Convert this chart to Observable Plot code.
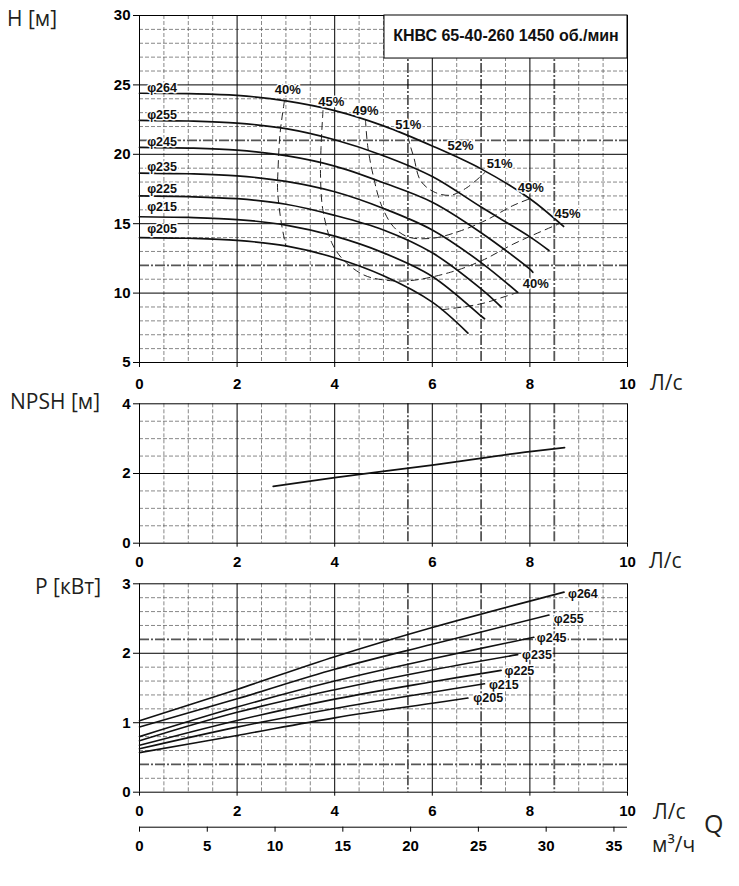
<!DOCTYPE html>
<html><head><meta charset="utf-8">
<script src="https://cdn.jsdelivr.net/npm/d3@7"></script>
<script src="https://cdn.jsdelivr.net/npm/@observablehq/plot@0.6"></script>
<style>
body{margin:0;background:#fff;}
#wrap{position:relative;width:739px;height:886px;overflow:hidden;background:#fff;}
#wrap svg{position:absolute;left:0;overflow:visible;}
</style></head><body><div id="wrap"></div>
<script>
// ---------- data ----------
const diameters = ["φ264","φ255","φ245","φ235","φ225","φ215","φ205"];
// Head curves H [m] vs Q [l/s]
const head264 = [[0,24.4],[1,24.37],[2,24.25],[3,23.85],[4,23.15],[5,22.05],[6,20.6],[7,18.95],[8,16.8],[8.69,14.8]];
const head255 = [[0,22.45],[1,22.4],[2,22.25],[3,21.85],[4,21.05],[5,19.9],[6,18.4],[7,16.2],[8,14.05],[8.39,13.07]];
const head245 = [[0,20.5],[1,20.45],[2,20.3],[3,19.9],[4,19.15],[5,17.95],[6,16.55],[7,14.35],[8,11.72],[8.06,11.5]];
const head235 = [[0,18.65],[1,18.6],[2,18.45],[3,18.05],[4,17.3],[5,16.1],[6,14.55],[7,12.2],[7.75,10.05]];
const head225 = [[0,17.0],[1,16.95],[2,16.8],[3,16.4],[4,15.6],[5,14.55],[6,12.9],[7,10.3],[7.41,9.0]];
const head215 = [[0,15.5],[1,15.45],[2,15.3],[3,14.9],[4,14.1],[5,12.9],[6,11.2],[7,8.35],[7.07,8.15]];
const head205 = [[0,14.0],[1,13.95],[2,13.8],[3,13.4],[4,12.55],[5,11.25],[6,9.35],[6.73,7.12]];
const headSeries = [head264, head255, head245, head235, head225, head215, head205];
const headLabelQ = 0.157;
const headLabelH = [24.8, 22.85, 20.92, 19.07, 17.5, 16.19, 14.63];

// Efficiency iso-lines
const eff40left = [[2.97,23.85],[2.88,21.5],[2.84,19.0],[2.83,17.4],[2.9,15.2],[3.0,13.35]];
const eff45 = [[3.76,23.15],[3.72,20.5],[3.71,18.35],[3.76,15.95],[3.95,13.55],[4.19,12.35],[4.6,11.3],[5.0,10.95],[5.55,10.9],[6.37,11.5],[7.02,12.35],[7.67,13.55],[8.6,15.0]];
const eff49 = [[4.63,22.5],[4.68,20.5],[4.8,18.3],[4.95,16.4],[5.2,14.8],[5.5,14.05],[6.0,13.95],[6.55,14.45],[7.1,15.25],[7.65,16.3],[8.0,16.8]];
const eff51 = [[5.5,21.3],[5.55,20.6],[5.62,19.8],[5.76,18.1],[6.03,17.3],[6.37,17.05],[6.71,17.6],[7.08,18.7]];
const eff40right = [[6.2,8.8],[7.0,9.23],[7.53,9.8],[7.75,10.05]];
const effSeries = [eff40left, eff45, eff49, eff51, eff40right];
const effLabels = ["40%","45%","49%","51%","52%","51%","49%","45%","40%"];
const effLabelQ = [3.04, 3.93, 4.63, 5.51, 6.58, 7.38, 8.02, 8.77, 8.12];
const effLabelH = [24.65, 23.8, 23.16, 22.15, 20.63, 19.31, 17.59, 15.71, 10.67];

// NPSH [m]
const npshQ = [2.74, 4, 6, 8, 8.71];
const npshH = [1.63, 1.88, 2.24, 2.63, 2.74];

// Power P [kW]
const pow264 = [[0,1.03],[2,1.48],[4,1.95],[6,2.37],[8.7,2.88]];
const pow255 = [[0,0.94],[2,1.345],[4,1.77],[6,2.13],[8.39,2.55]];
const pow245 = [[0,0.8],[2,1.225],[4,1.6],[6,1.92],[8.08,2.23]];
const pow235 = [[0,0.74],[2,1.15],[4,1.475],[6,1.76],[7.75,1.98]];
const pow225 = [[0,0.675],[2,1.033],[4,1.34],[6,1.59],[7.41,1.754]];
const pow215 = [[0,0.625],[2,0.937],[4,1.205],[6,1.44],[7.07,1.56]];
const pow205 = [[0,0.57],[2,0.817],[4,1.07],[6,1.28],[6.73,1.355]];
const powSeries = [pow264, pow255, pow245, pow235, pow225, pow215, pow205];
const powLabelQ = [8.78, 8.49, 8.14, 7.84, 7.48, 7.16, 6.84];
const powLabelP = [2.86, 2.50, 2.22, 1.97, 1.75, 1.55, 1.35];

// Grid / ticks
const qTicks = [0,2,4,6,8,10];
const qMinor = [0.5,1,1.5,2.5,3,3.5,4.5,5,6.5,7.5,9,9.5];
const qThick = [5.5,7,8.5];
const hTicks = [5,10,15,20,25,30];
const hMinor = [6,7,8,9,11,13,14,16,17,18,19,22,23,24,26,27,28,29];
const hThick = [12,21];
const nTicks = [0,2,4];
const nMinor = [0.5,1,1.5,2.5,3,3.5];
const pTicks = [0,1,2,3];
const pMinor = [0.2,0.6,0.8,1.2,1.4,1.6,1.8,2.4,2.6,2.8];
const pThick = [0.4,2.2];
const m3hTicks = [0,5,10,15,20,25,30,35];
const titleText = "КНВС 65-40-260 1450 об./мин";
const titleBox = {q1: 5.02, q2: 10, h1: 26.9, h2: 30};

// ---------- styles ----------
const TICKFONT = '"Liberation Sans Narrow","Liberation Sans",Arial,sans-serif';
const LABFONT = '"Liberation Sans",Arial,sans-serif';
const fmt = d3.format("d");
const minorStyle = {stroke:"#555", strokeWidth:0.7, strokeDasharray:"4,2"};
const thickStyle = {stroke:"#555", strokeWidth:1.8, strokeDasharray:"10,2,2,2"};
const majorStyle = {stroke:"#000", strokeWidth:1};
const baseOpts = {width:739, marginLeft:139, marginRight:112,
  style:{fontFamily:TICKFONT, fontSize:"15px", fontWeight:"bold", color:"#000", background:"transparent"}};

const rows = (series, names, yk) => series.flatMap((s,i)=>s.map(([q,v])=>({d:names[i], q, [yk]:v})));
const wrap = document.getElementById("wrap");
function place(svg, top){ svg.style.top = top+"px"; wrap.appendChild(svg); }

// ---------- H chart ----------
const headRows = rows(headSeries, diameters, "h");
const effRows = effSeries.flatMap((s,i)=>s.map(([q,h])=>({k:i,q,h})));
place(Plot.plot({...baseOpts, height:390, marginTop:15, marginBottom:28,
  x:{domain:[0,10], label:null}, y:{domain:[5,30], label:null},
  marks:[
    Plot.ruleX(qMinor, minorStyle),
    Plot.ruleY(hMinor, minorStyle),
    Plot.ruleX(qThick, thickStyle),
    Plot.ruleY(hThick, thickStyle),
    Plot.ruleX(qTicks, majorStyle),
    Plot.ruleY(hTicks, majorStyle),
    Plot.rect([titleBox], {x1:"q1", x2:"q2", y1:"h1", y2:"h2", fill:"white", stroke:"#000", strokeWidth:1}),
    Plot.text([titleText], {x:(titleBox.q1+titleBox.q2)/2, y:(titleBox.h1+titleBox.h2)/2+0.05, text:d=>d, fontFamily:LABFONT, fontSize:16, fontWeight:"bold", fill:"#111"}),
    Plot.line(effRows, {x:"q", y:"h", z:"k", curve:"catmull-rom", stroke:"#222", strokeWidth:1, strokeDasharray:"7,5"}),
    Plot.line(headRows, {x:"q", y:"h", z:"d", curve:"catmull-rom", stroke:"#111", strokeWidth:1.7}),
    Plot.text(effLabels, {x:(d,i)=>effLabelQ[i], y:(d,i)=>effLabelH[i], text:d=>d, fontFamily:TICKFONT, fontSize:13, fontWeight:"bold", fill:"#111", stroke:"white", strokeWidth:3}),
    Plot.text(diameters, {x:headLabelQ, y:(d,i)=>headLabelH[i], text:d=>d, textAnchor:"start", fontFamily:LABFONT, fontSize:12.5, fontWeight:"bold", fill:"#111", stroke:"white", strokeWidth:3}),
    Plot.axisX({ticks:qTicks, tickFormat:fmt, tickSize:5, tickPadding:11, label:null}),
    Plot.axisY({ticks:hTicks, tickFormat:fmt, tickSize:6, tickPadding:3, label:null})
  ]}), 0);

// ---------- NPSH chart ----------
const npshRows = npshQ.map((q,i)=>({q, n:npshH[i]}));
place(Plot.plot({...baseOpts, height:180, marginTop:13.3, marginBottom:27.3,
  x:{domain:[0,10], label:null}, y:{domain:[0,4], label:null},
  marks:[
    Plot.ruleX(qMinor, minorStyle),
    Plot.ruleY(nMinor, minorStyle),
    Plot.ruleX(qThick, thickStyle),
    Plot.ruleX(qTicks, majorStyle),
    Plot.ruleY(nTicks, majorStyle),
    Plot.line(npshRows, {x:"q", y:"n", curve:"monotone-x", stroke:"#111", strokeWidth:1.7}),
    Plot.axisX({ticks:qTicks, tickFormat:fmt, tickSize:4, tickPadding:9.5, label:null}),
    Plot.axisY({ticks:nTicks, tickFormat:fmt, tickSize:6, tickPadding:3, label:null})
  ]}), 390);

// ---------- Power chart ----------
const powRows = rows(powSeries, diameters, "p");
place(Plot.plot({...baseOpts, height:250, marginTop:13.3, marginBottom:28.3,
  x:{domain:[0,10], label:null}, y:{domain:[0,3], label:null},
  marks:[
    Plot.ruleX(qMinor, minorStyle),
    Plot.ruleY(pMinor, minorStyle),
    Plot.ruleX(qThick, thickStyle),
    Plot.ruleY(pThick, thickStyle),
    Plot.ruleX(qTicks, majorStyle),
    Plot.ruleY(pTicks, majorStyle),
    Plot.line(powRows, {x:"q", y:"p", z:"d", curve:"catmull-rom", stroke:"#111", strokeWidth:1.6}),
    Plot.text(diameters, {x:(d,i)=>powLabelQ[i], y:(d,i)=>powLabelP[i], text:d=>d, textAnchor:"start", fontFamily:LABFONT, fontSize:12.5, fontWeight:"bold", fill:"#111", stroke:"white", strokeWidth:3}),
    Plot.axisX({ticks:qTicks, tickFormat:fmt, tickSize:4, tickPadding:9, label:null}),
    Plot.axisY({ticks:pTicks, tickFormat:fmt, tickSize:6, tickPadding:3, label:null})
  ]}), 570);

// ---------- m3/h axis ----------
place(Plot.plot({...baseOpts, height:40, marginTop:2, marginBottom:33.3,
  x:{domain:[0,36], label:null}, y:{domain:[0,1], axis:null},
  marks:[
    Plot.ruleY([0], {stroke:"#000", strokeWidth:1}),
    Plot.axisX({ticks:m3hTicks, tickFormat:fmt, tickSize:5, tickPadding:8.5, label:null})
  ]}), 820);

// ---------- axis titles ----------
const titles = [
  {t:"H [м]", x:7, y:25.5, s:21},
  {t:"NPSH [м]", x:10, y:408.6, s:21},
  {t:"P [кВт]", x:35, y:594, s:21},
  {t:"Л/с", x:650, y:389.5, s:21},
  {t:"Л/с", x:649, y:568, s:21},
  {t:"Л/с", x:653, y:818.5, s:21},
  {t:"Q", x:704, y:833, s:25},
  {t:"м³/ч", x:652, y:852, s:21}
];
const ov = d3.create("svg").attr("width",739).attr("height",886).style("top","0px");
ov.selectAll("text").data(titles).join("text")
  .attr("x",d=>d.x).attr("y",d=>d.y).attr("font-size",d=>d.s)
  .attr("font-family",'"Open Sans","Noto Sans",sans-serif').attr("fill","#231f20").text(d=>d.t);
wrap.appendChild(ov.node());
</script></body></html>
